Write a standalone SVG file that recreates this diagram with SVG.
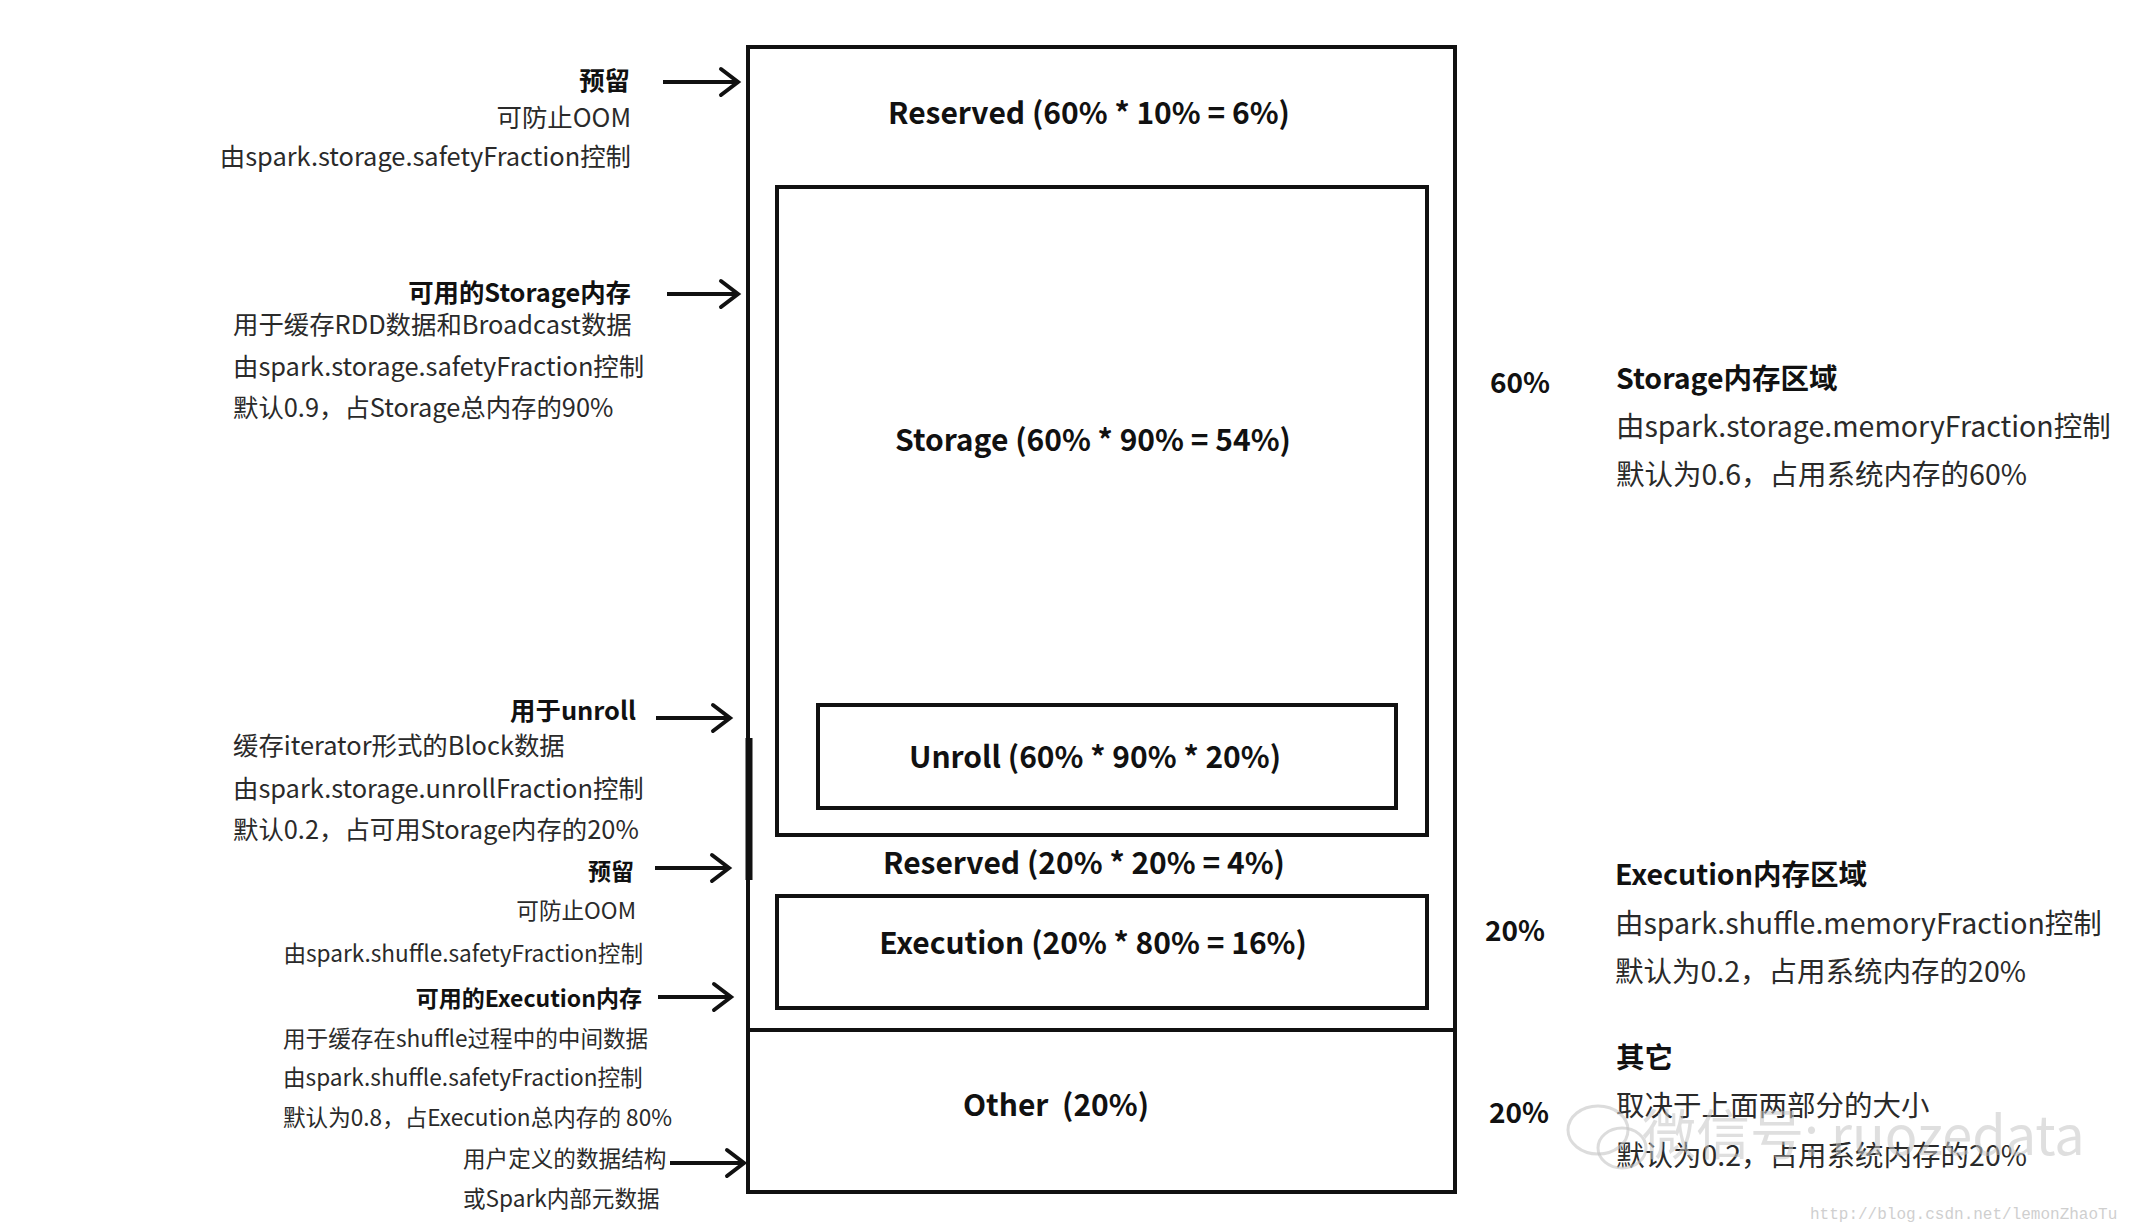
<svg xmlns="http://www.w3.org/2000/svg" width="2146" height="1230" viewBox="0 0 2146 1230">
<style>
  text { font-family: "Noto Sans CJK SC", "Noto Sans", sans-serif; }
  .box { fill: none; stroke: #111; stroke-width: 4; }
  .main { font-size: 30px; font-weight: bold; fill: #111; text-anchor: middle; }
  .lt { font-size: 25.4px; font-weight: bold; fill: #111; text-anchor: end; }
  .ld { font-size: 25.4px; fill: #2a2a2a; }
  .lr { font-size: 25.4px; fill: #2a2a2a; text-anchor: end; }
  .lts { font-size: 23px; font-weight: bold; fill: #111; text-anchor: end; }
  .lds { font-size: 22.6px; fill: #2a2a2a; }
  .lrs { font-size: 22.6px; fill: #2a2a2a; text-anchor: end; }
  .rt { font-size: 28.5px; font-weight: bold; fill: #111; }
  .rd { font-size: 28.5px; fill: #2a2a2a; }
  .pct { font-size: 28px; font-weight: bold; fill: #111; }
  .conn line { stroke: #111; stroke-width: 4; marker-end: url(#chev); }
  .wm { font-size: 54px; fill: #c4c4c4; fill-opacity: 0.55; }
  .wml { fill: none; stroke: #c4c4c4; stroke-opacity: 0.6; stroke-width: 3; }
  .url { font-size: 16px; fill: #cfcfcf; font-family: "Liberation Mono", monospace; }
</style>
<defs>
  <marker id="chev" markerUnits="userSpaceOnUse" markerWidth="26" markerHeight="34" viewBox="-22 -17 26 34" refX="0" refY="0" orient="auto">
    <path d="M -17 -13 L 0 0 L -17 13" fill="none" stroke="#111" stroke-width="4" stroke-linecap="round" stroke-linejoin="miter"/>
  </marker>
</defs>
<rect width="2146" height="1230" fill="#ffffff"/>

<g id="memory-box">
  <rect class="box" x="748" y="47" width="707" height="1145"/>
  <line x1="749" y1="738" x2="749" y2="880" stroke="#111" stroke-width="7"/>
  <line x1="748" y1="1030" x2="1455" y2="1030" stroke="#111" stroke-width="4"/>
  <text class="main" x="1089" y="124">Reserved (60% * 10% = 6%)</text>
  <text class="main" x="1084" y="874">Reserved (20% * 20% = 4%)</text>
  <text class="main" x="1056" y="1116" style="white-space:pre">Other  (20%)</text>
</g>
<g id="storage">
  <rect class="box" x="777" y="187" width="650" height="648"/>
  <text class="main" x="1093" y="451">Storage (60% * 90% = 54%)</text>
</g>
<g id="unroll">
  <rect class="box" x="818" y="705" width="578" height="103"/>
  <text class="main" x="1095" y="768">Unroll (60% * 90% * 20%)</text>
</g>
<g id="execution">
  <rect class="box" x="777" y="896" width="650" height="112"/>
  <text class="main" x="1093" y="954">Execution (20% * 80% = 16%)</text>
</g>

<g class="conn" id="connectors">
  <line x1="663" y1="82" x2="738" y2="82"/>
  <line x1="667" y1="294" x2="738" y2="294"/>
  <line x1="656" y1="718" x2="730" y2="718"/>
  <line x1="655" y1="868" x2="729" y2="868"/>
  <line x1="658" y1="997" x2="731" y2="997"/>
  <line x1="670" y1="1163" x2="744" y2="1163"/>
</g>

<g id="note-reserved-storage">
  <text class="lt" x="630" y="90">预留</text>
  <text class="lr" x="631" y="127">可防止OOM</text>
  <text class="lr" x="631" y="166">由spark.storage.safetyFraction控制</text>
</g>
<g id="note-storage">
  <text class="lt" x="631" y="302">可用的Storage内存</text>
  <text class="ld" x="233" y="334">用于缓存RDD数据和Broadcast数据</text>
  <text class="ld" x="233" y="376">由spark.storage.safetyFraction控制</text>
  <text class="ld" x="233" y="417">默认0.9，占Storage总内存的90%</text>
</g>
<g id="note-unroll">
  <text class="lt" x="636" y="720">用于unroll</text>
  <text class="ld" x="233" y="755">缓存iterator形式的Block数据</text>
  <text class="ld" x="233" y="798">由spark.storage.unrollFraction控制</text>
  <text class="ld" x="233" y="839">默认0.2，占可用Storage内存的20%</text>
</g>
<g id="note-reserved-execution">
  <text class="lts" x="634" y="880">预留</text>
  <text class="lrs" x="636" y="919">可防止OOM</text>
  <text class="lrs" x="643" y="962">由spark.shuffle.safetyFraction控制</text>
</g>
<g id="note-execution">
  <text class="lts" x="642" y="1007">可用的Execution内存</text>
  <text class="lds" x="283" y="1047">用于缓存在shuffle过程中的中间数据</text>
  <text class="lds" x="283" y="1086">由spark.shuffle.safetyFraction控制</text>
  <text class="lds" x="283" y="1126">默认为0.8，占Execution总内存的 80%</text>
</g>
<g id="note-other">
  <text class="lds" x="463" y="1167">用户定义的数据结构</text>
  <text class="lds" x="463" y="1207">或Spark内部元数据</text>
</g>

<g id="right-storage">
  <text class="pct" x="1490" y="393">60%</text>
  <text class="rt" x="1616" y="389">Storage内存区域</text>
  <text class="rd" x="1616" y="437">由spark.storage.memoryFraction控制</text>
  <text class="rd" x="1616" y="485">默认为0.6，占用系统内存的60%</text>
</g>
<g id="right-execution">
  <text class="rt" x="1615" y="885">Execution内存区域</text>
  <text class="pct" x="1485" y="941">20%</text>
  <text class="rd" x="1615" y="934">由spark.shuffle.memoryFraction控制</text>
  <text class="rd" x="1615" y="982">默认为0.2，占用系统内存的20%</text>
</g>
<g id="right-other">
  <text class="rt" x="1616" y="1068">其它</text>
  <text class="pct" x="1489" y="1123">20%</text>
  <text class="rd" x="1616" y="1116">取决于上面两部分的大小</text>
  <text class="rd" x="1616" y="1166">默认为0.2，占用系统内存的20%</text>
</g>

<g id="watermark">
  <ellipse class="wml" cx="1598" cy="1130" rx="30" ry="24"/>
  <ellipse class="wml" cx="1622" cy="1148" rx="24" ry="20"/>
  <text class="wm" x="1642" y="1155">微信号: ruozedata</text>
  <text class="url" x="1810" y="1219">http://blog.csdn.net/lemonZhaoTu</text>
</g>
</svg>
